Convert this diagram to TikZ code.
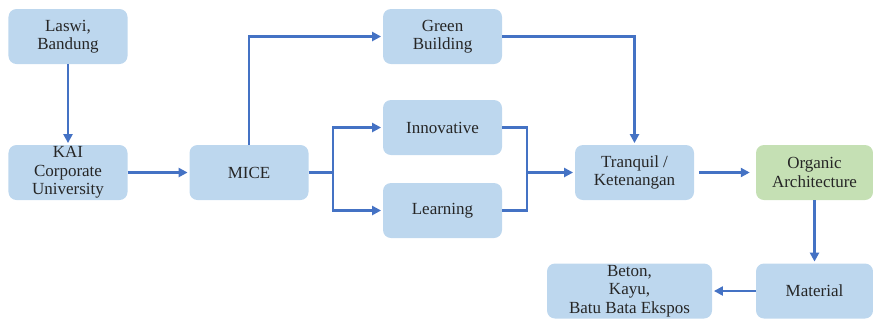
\documentclass[tikz,border=0pt]{standalone}
\usepackage{fontspec}
\setmainfont{Liberation Serif}
\newfontfamily\boxfont{Liberation Serif}
\usetikzlibrary{arrows.meta}
\definecolor{boxblue}{RGB}{189,215,238}
\definecolor{boxgreen}{RGB}{197,224,180}
\definecolor{linkblue}{RGB}{68,114,196}

\begin{document}
\begin{tikzpicture}[x=0.03cm,y=-0.03cm,
    box/.style={rectangle,rounded corners=0.24cm,fill=boxblue,minimum width=3.57cm,minimum height=1.65cm,
        inner sep=0pt,align=center,text=black!85,font=\boxfont\fontsize{14.5}{15.8}\selectfont},
    link/.style={linkblue,line width=1.9pt},
    arr/.style={link,-{Triangle[length=0.27cm,width=0.27cm]},shorten >=0.05cm}]

    \useasboundingbox (0,0) rectangle (873,322);

    \node[box] (laswi) at (68,36.5) {Laswi,\\Bandung};
    \node[box] (kai) at (68,172.5) {KAI\\Corporate\\University};
    \node[box] (mice) at (249,172.5) {MICE};

    \node[box] (green) at (442.5,36.5) {Green\\Building};
    \node[box] (innov) at (442.5,127.5) {Innovative};
    \node[box] (learn) at (442.5,210.5) {Learning};

    \node[box] (tranq) at (634.5,172.5) {Tranquil /\\Ketenangan};
    \node[box,fill=boxgreen,minimum width=3.51cm] (organic) at (814.5,172.5) {Organic\\Architecture};
    \node[box,minimum width=3.51cm] (material) at (814.5,291) {Material};
    \node[box,minimum width=4.95cm] (beton) at (629.5,291) {Beton,\\Kayu,\\Batu Bata Ekspos};

    \coordinate (split) at (333,172.5);
    \coordinate (join) at (527,172.5);

    \draw[arr] (laswi) -- (kai);
    \draw[arr] (kai) -- (mice);
    \draw[arr] (mice.north) |- (green.west);

    \draw[link] (mice.east) -- (split);
    \draw[arr] (split) |- (innov.west);
    \draw[arr] (split) |- (learn.west);

    \draw[link] (innov.east) -| (join);
    \draw[link] (learn.east) -| (join);
    \draw[arr] (join) -- (tranq.west);
    \draw[arr] (green.east) -| (tranq.north);

    \draw[arr,shorten <=0.15cm,shorten >=0.18cm] (tranq) -- (organic);
    \draw[arr] (organic) -- (material);
    \draw[arr] (material) -- (beton);
\end{tikzpicture}
\end{document}
